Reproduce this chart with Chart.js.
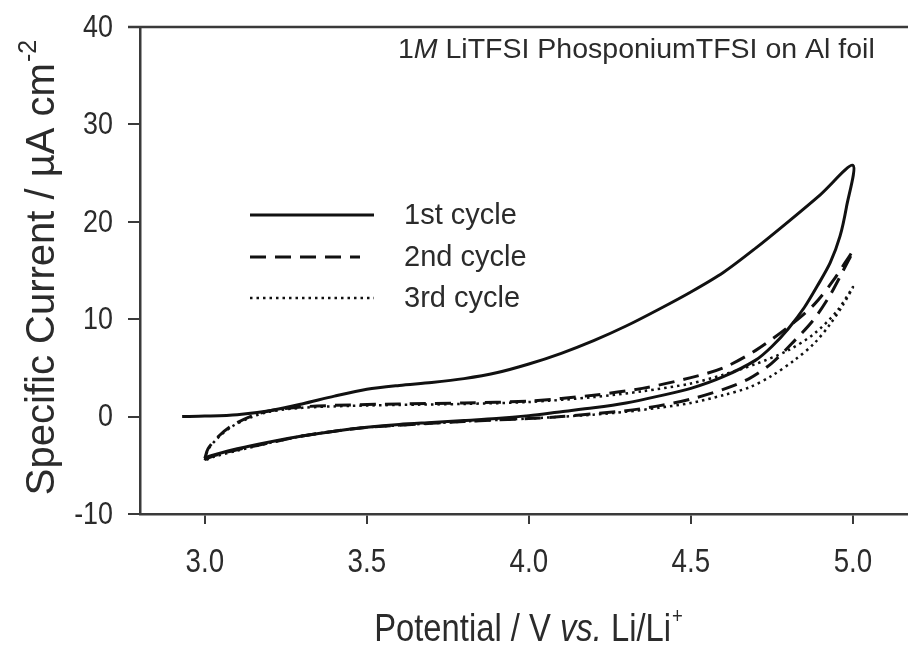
<!DOCTYPE html>
<html>
<head>
<meta charset="utf-8">
<script src="https://cdn.jsdelivr.net/npm/chart.js@4.4.1/dist/chart.umd.min.js"></script>
<style>
  html, body { margin: 0; padding: 0; background: #fff; }
  canvas { display: block; }
</style>
</head>
<body>
<canvas id="cvChart" width="908" height="645"></canvas>
<script>
// tick values
const xTickValues = [3.0, 3.5, 4.0, 4.5, 5.0];
const yTickValues = [-10, 0, 10, 20, 30, 40];

// 1st cycle: from OCV up to 5.0 V and back down to 3.0 V
const cycle1V = [2.93, 3.0, 3.1, 3.2, 3.3, 3.4, 3.5, 3.6, 3.7, 3.8, 3.9, 4.0, 4.1, 4.2, 4.3, 4.4, 4.5, 4.6, 4.7, 4.8, 4.9, 5.0,
  4.98, 4.96, 4.93, 4.89, 4.85, 4.8, 4.75, 4.7, 4.6, 4.5, 4.4, 4.3, 4.2, 4.1, 4.0, 3.9, 3.8, 3.7, 3.6, 3.5, 3.4, 3.3, 3.2, 3.1, 3.03, 3.0];
const cycle1I = [0, 0.05, 0.2, 0.6, 1.3, 2.1, 2.8, 3.2, 3.5, 3.9, 4.5, 5.4, 6.5, 7.8, 9.3, 11.0, 12.8, 14.8, 17.3, 20.0, 22.8, 25.8,
  21.5, 18.5, 15.8, 13.4, 11.2, 9.0, 7.2, 5.8, 4.1, 2.9, 2.1, 1.4, 0.9, 0.5, 0.1, -0.2, -0.4, -0.6, -0.8, -1.1, -1.5, -2.0, -2.6, -3.3, -3.9, -4.2];

// 2nd cycle
const cycle2V = [3.0, 3.01, 3.04, 3.08, 3.14, 3.2, 3.3, 3.45, 3.6, 3.8, 4.0, 4.2, 4.35, 4.5, 4.6, 4.7, 4.8, 4.88, 4.94, 5.0,
  4.97, 4.93, 4.88, 4.82, 4.75, 4.68, 4.6, 4.5, 4.4, 4.3, 4.2, 4.1, 4.0, 3.8, 3.6, 3.5, 3.4, 3.3, 3.2, 3.1, 3.03, 3.0];
const cycle2I = [-4.3, -3.3, -2.1, -1.0, 0.0, 0.6, 1.0, 1.2, 1.3, 1.4, 1.6, 2.2, 2.9, 4.0, 5.0, 6.8, 9.2, 11.5, 14.0, 17.0,
  15.0, 12.5, 10.0, 7.8, 5.5, 3.9, 2.8, 1.8, 1.1, 0.6, 0.3, 0.0, -0.2, -0.5, -0.9, -1.1, -1.5, -2.0, -2.7, -3.4, -4.0, -4.4];

// 3rd cycle
const cycle3V = [3.0, 3.01, 3.04, 3.08, 3.14, 3.2, 3.3, 3.45, 3.6, 3.8, 4.0, 4.2, 4.35, 4.5, 4.6, 4.7, 4.8, 4.88, 4.95, 5.0,
  4.97, 4.93, 4.88, 4.82, 4.75, 4.68, 4.6, 4.5, 4.4, 4.3, 4.2, 4.0, 3.8, 3.6, 3.5, 3.4, 3.3, 3.2, 3.1, 3.03, 3.0];
const cycle3I = [-4.5, -3.4, -2.2, -1.1, -0.1, 0.5, 0.9, 1.1, 1.2, 1.3, 1.5, 2.0, 2.6, 3.4, 4.3, 5.4, 6.8, 8.5, 10.8, 13.3,
  11.5, 9.5, 7.5, 5.8, 4.2, 3.0, 2.2, 1.4, 0.9, 0.5, 0.2, -0.2, -0.5, -0.9, -1.1, -1.5, -2.0, -2.7, -3.5, -4.1, -4.5];

const cycleNames = ['1st cycle', '2nd cycle', '3rd cycle'];

function toPoints(vs, is) {
  return vs.map((v, i) => ({ x: v, y: is[i] }));
}

const plainFont = "'Liberation Sans', Arial, sans-serif";
const axisColor = '#3a3a3a';
const textColor = '#2b2b2b';
const squeeze = 0.84; // the original uses a narrow face

// text squeezed horizontally, anchored at (x, y)
function narrowText(ctx, text, x, y, font, align) {
  ctx.save();
  ctx.font = font;
  const w = ctx.measureText(text).width * squeeze;
  let left = x;
  if (align === 'center') left = x - w / 2;
  if (align === 'right') left = x - w;
  ctx.translate(left, y);
  ctx.scale(squeeze, 1);
  ctx.textAlign = 'left';
  ctx.fillText(text, 0, 0);
  ctx.restore();
  return w;
}

// draws tick labels, top frame line, legend, note and axis titles
const decorPlugin = {
  id: 'decor',
  afterDraw(chart) {
    const ctx = chart.ctx;
    const area = chart.chartArea;
    const xs = chart.scales.x;
    const ys = chart.scales.y;
    ctx.save();
    ctx.fillStyle = textColor;

    // tick labels
    ctx.textBaseline = 'middle';
    xs.ticks.forEach(t => {
      narrowText(ctx, t.value.toFixed(1), xs.getPixelForValue(t.value), 563, '33px ' + plainFont, 'center');
    });
    ys.ticks.forEach(t => {
      narrowText(ctx, String(t.value), 113, ys.getPixelForValue(t.value) + 1, '32px ' + plainFont, 'right');
    });

    // top frame line
    ctx.strokeStyle = axisColor;
    ctx.lineWidth = 2.5;
    ctx.beginPath();
    ctx.moveTo(128, area.top);
    ctx.lineTo(chart.width, area.top);
    ctx.stroke();

    // legend
    const rows = [215, 257, 298];
    chart.data.datasets.forEach((ds, i) => {
      ctx.strokeStyle = '#111';
      ctx.lineWidth = ds.borderWidth;
      ctx.setLineDash(ds.borderDash || []);
      ctx.beginPath();
      ctx.moveTo(250, rows[i]);
      ctx.lineTo(i === 1 ? 360 : 374, rows[i]);
      ctx.stroke();
      ctx.setLineDash([]);
      ctx.font = '29px ' + plainFont;
      ctx.textBaseline = 'middle';
      ctx.textAlign = 'left';
      ctx.fillText(ds.label, 404, rows[i] + 1);
    });

    // note at top right
    ctx.textBaseline = 'alphabetic';
    let nx = 398;
    const ny = 58;
    ctx.font = '28.5px ' + plainFont;
    ctx.fillText('1', nx, ny);
    nx += ctx.measureText('1').width;
    ctx.font = 'italic 28.5px ' + plainFont;
    ctx.fillText('M', nx, ny);
    nx += ctx.measureText('M ').width;
    ctx.font = '28.5px ' + plainFont;
    ctx.fillText('LiTFSI PhosponiumTFSI on Al foil', nx, ny);

    // x title
    const xParts = [
      { t: 'Potential / V ', f: '39px ' + plainFont },
      { t: 'vs.', f: 'italic 39px ' + plainFont },
      { t: ' Li/Li', f: '39px ' + plainFont }
    ];
    let total = 0;
    xParts.forEach(p => { ctx.font = p.f; total += ctx.measureText(p.t).width * squeeze; });
    ctx.font = '22px ' + plainFont;
    total += ctx.measureText('+').width * squeeze;
    let tx = 528 - total / 2;
    const ty = 641;
    xParts.forEach(p => {
      tx += narrowText(ctx, p.t, tx, ty, p.f, 'left');
    });
    narrowText(ctx, '+', tx + 1, ty - 18, '22px ' + plainFont, 'left');

    // y title
    ctx.translate(54, 268);
    ctx.rotate(-Math.PI / 2);
    const yMain = 'Specific Current / \u00b5A cm';
    ctx.font = '40px ' + plainFont;
    const w1 = ctx.measureText(yMain).width;
    ctx.font = '25px ' + plainFont;
    const w2 = ctx.measureText('-2').width;
    const yx = -(w1 + w2) / 2;
    ctx.font = '40px ' + plainFont;
    ctx.fillText(yMain, yx, 0);
    ctx.font = '25px ' + plainFont;
    ctx.fillText('-2', yx + w1 + 1, -18);

    ctx.restore();
  }
};

new Chart(document.getElementById('cvChart'), {
  type: 'scatter',
  data: {
    datasets: [
      {
        label: cycleNames[0],
        data: toPoints(cycle1V, cycle1I),
        showLine: true,
        borderColor: '#111',
        borderWidth: 3,
        pointRadius: 0,
        tension: 0.3
      },
      {
        label: cycleNames[1],
        data: toPoints(cycle2V, cycle2I),
        showLine: true,
        borderColor: '#111',
        borderWidth: 3,
        borderDash: [16, 9],
        pointRadius: 0,
        tension: 0.3
      },
      {
        label: cycleNames[2],
        data: toPoints(cycle3V, cycle3I),
        showLine: true,
        borderColor: '#111',
        borderWidth: 2.5,
        borderDash: [2.5, 4],
        pointRadius: 0,
        tension: 0.3
      }
    ]
  },
  options: {
    responsive: false,
    animation: false,
    devicePixelRatio: 1,
    layout: { padding: { top: 27, right: 0, left: 0, bottom: 0 } },
    plugins: {
      legend: { display: false },
      tooltip: { enabled: false }
    },
    scales: {
      x: {
        type: 'linear',
        min: 2.8,
        max: 5.17,
        afterBuildTicks: axis => { axis.ticks = xTickValues.map(v => ({ value: v })); },
        afterFit: scale => { scale.height = 131; },
        ticks: { display: false },
        grid: { drawOnChartArea: false, drawTicks: true, tickLength: 10, color: axisColor, lineWidth: 2 },
        border: { display: true, color: axisColor, width: 2.5 }
      },
      y: {
        type: 'linear',
        min: -10,
        max: 40,
        afterBuildTicks: axis => { axis.ticks = yTickValues.map(v => ({ value: v })); },
        afterFit: scale => { scale.width = 140; },
        ticks: { display: false },
        grid: { drawOnChartArea: false, drawTicks: true, tickLength: 12, color: axisColor, lineWidth: 2 },
        border: { display: true, color: axisColor, width: 2.5 }
      }
    }
  },
  plugins: [decorPlugin]
});
</script>
</body>
</html>
